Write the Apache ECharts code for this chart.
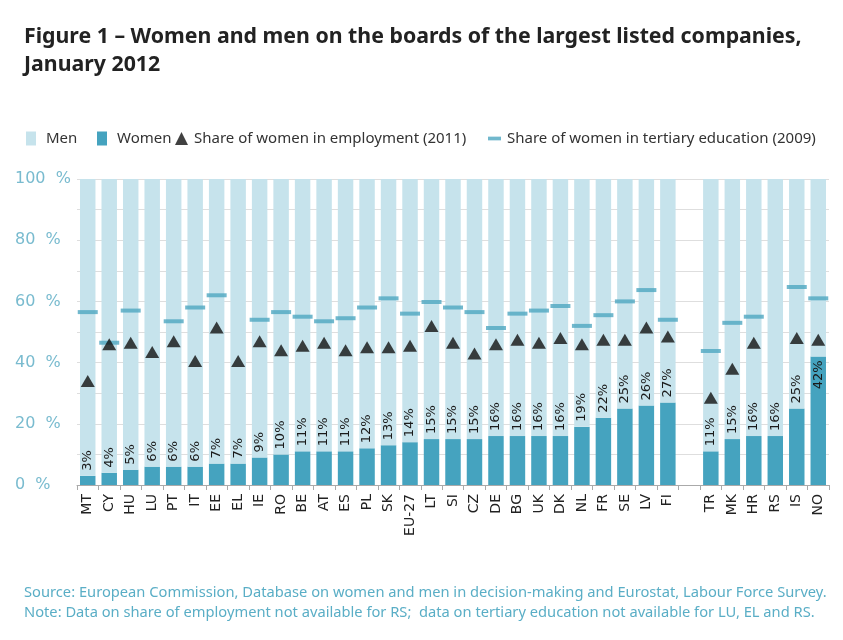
<!DOCTYPE html>
<html><head><meta charset="utf-8">
<script src="https://cdn.jsdelivr.net/npm/echarts@6/dist/echarts.min.js"></script>
<style>html,body{margin:0;padding:0;background:#fff}#c{width:843px;height:640px}</style>
</head><body><div id="c"></div>
<script>
const categories = ['MT','CY','HU','LU','PT','IT','EE','EL','IE','RO','BE','AT','ES','PL','SK','EU-27','LT','SI','CZ','DE','BG','UK','DK','NL','FR','SE','LV','FI','','TR','MK','HR','RS','IS','NO'];
const women = [3,4,5,6,6,6,7,7,9,10,11,11,11,12,13,14,15,15,15,16,16,16,16,19,22,25,26,27,null,11,15,16,16,25,42];
const employment = [34,46,46.5,43.5,47,40.5,51.5,40.5,47,44,45.5,46.5,44,45,45,45.5,52,46.5,43,46,47.5,46.5,48,46,47.5,47.5,51.5,48.5,null,28.5,38,46.5,null,48,47.5];
const tertiary = [56.5,46.5,57,null,53.5,58,62,null,54,56.5,55,53.5,54.5,58,61,56,59.8,58,56.5,51.3,56,57,58.5,52,55.5,60,63.7,54,null,43.8,53,55,null,64.7,61];
const yTicks = [0,20,40,60,80,100];

const men = women.map(v => v == null ? null : 100 - v);
const FONT = 'Noto Sans';
const legText = {fontFamily:FONT, fontSize:15, color:'#333', padding:[0,0,0,5]};
const legText0 = {fontFamily:FONT, fontSize:15, color:'#333', padding:[0,0,0,1]};
const chart = echarts.init(document.getElementById('c'), null, {renderer:'canvas'});
chart.setOption({
  animation:false,
  backgroundColor:'#fff',
  title:[{
    text:'Figure 1 – Women and men on the boards of the largest listed companies,\nJanuary 2012',
    left:19, top:18,
    textStyle:{fontFamily:FONT, fontWeight:'bold', fontSize:21.3, color:'#222', lineHeight:28}
  },{
    text:'Source: European Commission, Database on women and men in decision-making and Eurostat, Labour Force Survey.\nNote: Data on share of employment not available for RS;  data on tertiary education not available for LU, EL and RS.',
    left:19, top:578,
    textStyle:{fontFamily:FONT, fontWeight:'normal', fontSize:14.7, color:'#5aaec6', lineHeight:20}
  }],
  legend:[
    {left:21, top:126, itemWidth:10, itemHeight:14, textStyle:legText, data:[{name:'Men', icon:'rect'}]},
    {left:92, top:126, itemWidth:10, itemHeight:14, textStyle:legText, data:[{name:'Women', icon:'rect'}]},
    {left:170, top:126, itemWidth:13, itemHeight:13, textStyle:legText0, data:[{name:'Share of women in employment (2011)', icon:'triangle'}]},
    {left:483, top:126, itemWidth:13, itemHeight:14, textStyle:legText0, data:[{name:'Share of women in tertiary education (2009)', icon:'path://M0,0h14v4h-14z'}]}
  ],
  grid:{left:77, right:14, top:179, bottom:155, containLabel:false},
  xAxis:{
    type:'category', data:categories,
    axisLine:{lineStyle:{color:'#aaa'}},
    axisTick:{show:true, alignWithLabel:false, length:5, lineStyle:{color:'#aaa'}},
    axisLabel:{rotate:90, interval:0, fontFamily:'DejaVu Sans', fontSize:14, color:'#222', margin:9}
  },
  yAxis:{
    type:'value', min:0, max:100, interval:10,
    axisLine:{show:false}, axisTick:{show:false},
    splitLine:{lineStyle:{color:'#dedede'}},
    axisLabel:{
      formatter:v => yTicks.includes(v) ? v + '  %' : '',
      align:'left', margin:62, fontFamily:'DejaVu Sans', fontSize:16, color:'#79bbcf'
    }
  },
  series:[
    {name:'Women', type:'bar', stack:'a', data:women.map((v,i)=> categories[i]==='NO' ? {value:v, label:{position:'insideTop', align:'right', distance:4}} : v),
     barWidth:'72%', itemStyle:{color:'#45a3bf'},
     label:{show:true, position:'top', rotate:90, align:'left', verticalAlign:'middle', distance:5,
            formatter:p=>p.value+'%', fontFamily:'DejaVu Sans', fontSize:13, color:'#1a1a1a'}},
    {name:'Men', type:'bar', stack:'a', data:men, barWidth:'72%', itemStyle:{color:'#c6e3ec'}},
    {name:'Share of women in tertiary education (2009)', type:'scatter', data:tertiary,
     symbol:'rect', symbolSize:[20,4], itemStyle:{color:'#4ea6c1'}, z:5},
    {name:'Share of women in employment (2011)', type:'scatter', data:employment,
     symbol:'triangle', symbolSize:[14,12], itemStyle:{color:'#111'}, z:6}
  ]
});
</script></body></html>
